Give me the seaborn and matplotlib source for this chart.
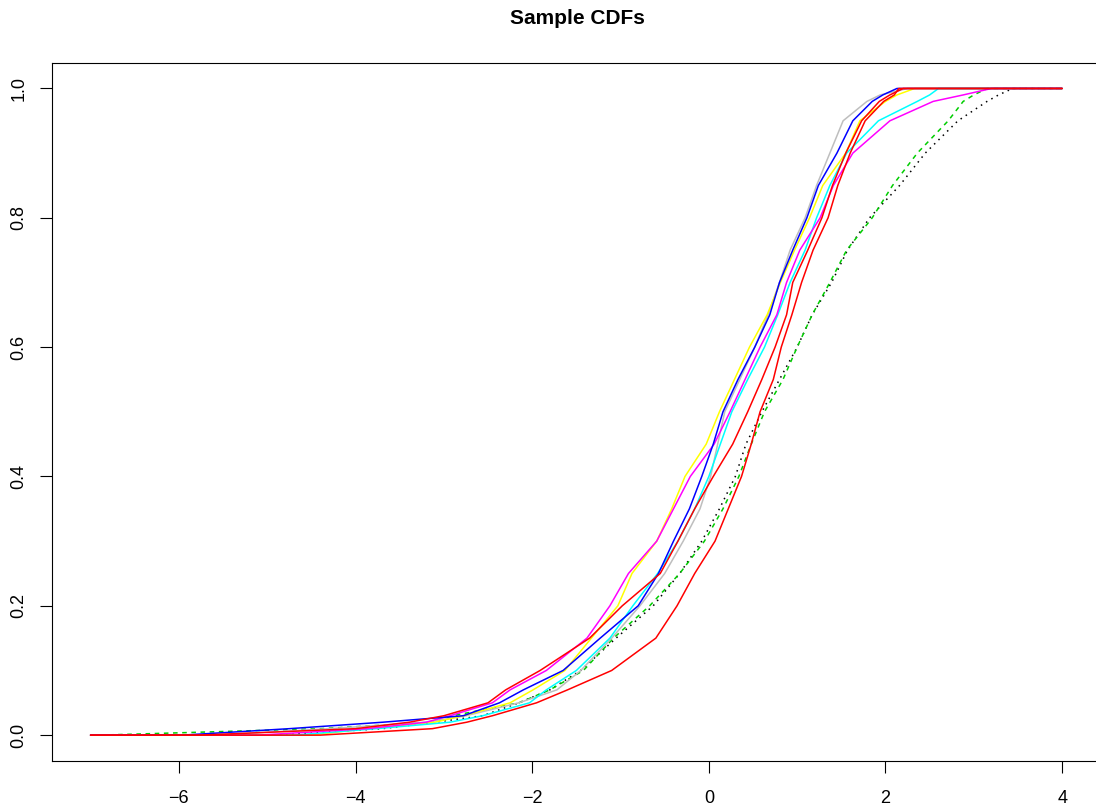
import numpy as np
import pandas as pd
import matplotlib
matplotlib.use("Agg")
import matplotlib.pyplot as plt
import seaborn as sns

# ---------------- data ----------------
# cumulative probability levels at which each sample's quantile was read
PROBS = [0.0, 0.01, 0.02, 0.03, 0.05, 0.07, 0.10, 0.15, 0.20, 0.25, 0.30,
         0.35, 0.40, 0.45, 0.50, 0.55, 0.60, 0.65, 0.70, 0.75, 0.80, 0.85,
         0.90, 0.95, 0.98, 0.99, 1.0]

X_START = -7.0   # left end of every ECDF line
X_END = 4.0      # right end of every ECDF line

SERIES_BLACK = [-4.9, -3.7, -3.1, -2.56, -2.15, -1.8, -1.45, -1.05, -0.63, -0.33,
                -0.08, 0.12, 0.30, 0.42, 0.60, 0.80, 1.0, 1.17, 1.39, 1.57, 1.82,
                2.16, 2.45, 2.82, 3.15, 3.28, 3.44]
SERIES_GREEN = [-6.9, -4.4, -3.1, -2.9, -2.15, -1.8, -1.42, -1.08, -0.67, -0.33,
                -0.05, 0.16, 0.34, 0.48, 0.63, 0.84, 1.0, 1.17, 1.37, 1.56, 1.85,
                2.08, 2.36, 2.71, 2.88, 3.0, 3.15]
SERIES_GRAY = [-5.6, -4.3, -3.2, -2.75, -2.15, -1.72, -1.45, -1.1, -0.78, -0.50,
               -0.29, -0.10, 0.02, 0.10, 0.18, 0.35, 0.52, 0.67, 0.80, 0.92, 1.09,
               1.22, 1.37, 1.52, 1.79, 1.94, 2.25]
SERIES_YELLOW = [-4.5, -3.87, -3.1, -2.78, -2.25, -1.99, -1.63, -1.33, -1.03, -0.87,
                 -0.59, -0.42, -0.27, -0.03, 0.12, 0.29, 0.46, 0.66, 0.81, 0.97,
                 1.14, 1.29, 1.55, 1.71, 2.0, 2.13, 2.33]
SERIES_CYAN = [-4.7, -3.76, -2.93, -2.56, -2.03, -1.84, -1.5, -1.12, -0.86, -0.58,
               -0.35, -0.16, 0.0, 0.13, 0.26, 0.44, 0.63, 0.78, 0.92, 1.09, 1.22,
               1.37, 1.56, 1.92, 2.36, 2.5, 2.6]
SERIES_MAGENTA = [-5.1, -3.87, -3.2, -2.93, -2.45, -2.25, -1.84, -1.38, -1.12, -0.91,
                  -0.59, -0.40, -0.21, 0.06, 0.24, 0.41, 0.58, 0.77, 0.88, 1.03,
                  1.26, 1.41, 1.63, 2.05, 2.54, 2.88, 3.2]
SERIES_BLUE = [-5.96, -4.75, -3.69, -2.78, -2.37, -2.1, -1.65, -1.23, -0.80, -0.57,
               -0.40, -0.22, -0.08, 0.05, 0.16, 0.33, 0.52, 0.69, 0.80, 0.95, 1.11,
               1.24, 1.45, 1.63, 1.85, 1.97, 2.13]
SERIES_RED_B = [-5.76, -4.0, -3.39, -3.0, -2.5, -2.3, -1.91, -1.35, -0.98, -0.55,
                -0.35, -0.16, 0.05, 0.27, 0.44, 0.60, 0.75, 0.88, 0.95, 1.12, 1.28,
                1.40, 1.55, 1.73, 1.93, 2.05, 2.2]
SERIES_RED_A = [-4.4, -3.13, -2.74, -2.45, -1.95, -1.6, -1.1, -0.6, -0.36, -0.16,
                0.07, 0.22, 0.37, 0.48, 0.58, 0.73, 0.82, 0.94, 1.05, 1.18, 1.35,
                1.46, 1.60, 1.77, 1.98, 2.10, 2.15]

SERIES_NAMES = ["black", "green", "gray", "yellow", "cyan", "magenta", "blue",
                "red_b", "red_a"]
SERIES_VALUES = [SERIES_BLACK, SERIES_GREEN, SERIES_GRAY, SERIES_YELLOW,
                 SERIES_CYAN, SERIES_MAGENTA, SERIES_BLUE, SERIES_RED_B,
                 SERIES_RED_A]

X_TICKS = [-6, -4, -2, 0, 2, 4]
Y_TICKS = [0.0, 0.2, 0.4, 0.6, 0.8, 1.0]
Y_TICK_LABELS = ["0.0", "0.2", "0.4", "0.6", "0.8", "1.0"]
TITLE = "Sample CDFs"

# ---------------- styles ----------------
PALETTE = {"black": "#000000", "green": "#00CD00", "gray": "#BEBEBE",
           "yellow": "#FFFF00", "cyan": "#00FFFF", "magenta": "#FF00FF",
           "blue": "#0000FF", "red_b": "#FF0000", "red_a": "#FF0000"}
DASHES = {"black": (1, 3), "green": (3, 3), "gray": "", "yellow": "",
          "cyan": "", "magenta": "", "blue": "", "red_b": "", "red_a": ""}

rows = []
for name, vals in zip(SERIES_NAMES, SERIES_VALUES):
    xs = [X_START] + list(vals) + [X_END]
    ys = [0.0] + list(PROBS) + [1.0]
    for i, (xv, yv) in enumerate(zip(xs, ys)):
        rows.append({"series": name, "x": xv, "y": yv, "order": i})
df = pd.DataFrame(rows)

sns.set_theme(style="white")
plt.rcParams["font.family"] = ["Liberation Sans", "DejaVu Sans"]

W, H = 1096, 809
fig = plt.figure(figsize=(W / 100, H / 100), dpi=100)
left_px, right_px, top_px, bottom_px = 51.7, 1101.0, 62.6, 761.0
ax = fig.add_axes([left_px / W, 1 - bottom_px / H,
                   (right_px - left_px) / W, (bottom_px - top_px) / H])

sns.lineplot(data=df, x="x", y="y", hue="series", style="series",
             hue_order=SERIES_NAMES, style_order=SERIES_NAMES,
             palette=PALETTE, dashes=DASHES, sort=False, estimator=None,
             legend=False, linewidth=1.1, ax=ax)

ax.set_xlim(-7.44, 4.44)
ax.set_ylim(-0.04, 1.04)
ax.set_xticks(X_TICKS)
ax.set_yticks(Y_TICKS)
ax.set_yticklabels(Y_TICK_LABELS, rotation=90, va="center")
ax.set_xlabel("")
ax.set_ylabel("")
ax.tick_params(axis="both", which="both", direction="out", length=8.6,
               width=0.8, color="black", labelsize=13, labelcolor="black",
               bottom=True, left=True)
ax.tick_params(axis="x", pad=12)
ax.tick_params(axis="y", pad=9)
for sp in ax.spines.values():
    sp.set_visible(True)
    sp.set_color("black")
    sp.set_linewidth(0.8)
ax.grid(False)

fig.text(577 / W, 1 - 18 / H, TITLE, ha="center", va="center",
         fontsize=15, fontweight="bold", color="black")

fig.savefig("out.png", dpi=100, facecolor="white")
